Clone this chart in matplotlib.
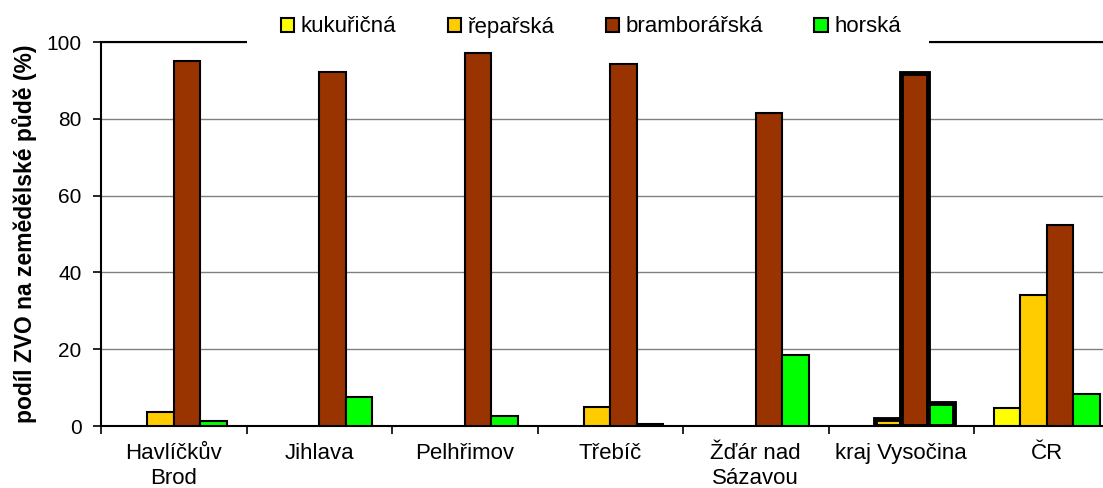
import matplotlib
matplotlib.use("Agg")
import matplotlib.pyplot as plt
import numpy as np
from matplotlib.patches import Patch, Rectangle

plt.rcParams['font.family'] = ['Liberation Sans', 'DejaVu Sans']

categories = ["Havlíčkův\nBrod", "Jihlava", "Pelhřimov", "Třebíč", "Žďár nad\nSázavou", "kraj Vysočina", "ČR"]
series_names = ["kukuřičná", "řepařská", "bramborářská", "horská"]
kukuricna = [0, 0, 0, 0, 0, 0, 4.7]
reparska = [3.6, 0, 0, 5.0, 0, 1.8, 34.2]
bramborarska = [95.0, 92.2, 97.1, 94.3, 81.5, 92.0, 52.4]
horska = [1.3, 7.5, 2.6, 0.6, 18.5, 6.0, 8.3]
yticks = [0, 20, 40, 60, 80, 100]

colors = ["#FFFF00", "#FFCC00", "#993300", "#00FF00"]
data = [kukuricna, reparska, bramborarska, horska]

W, H = 1103, 488
fig = plt.figure(figsize=(W/100, H/100), dpi=100)
left = 101/W
right_px = 101 + 7*145.5
ax = fig.add_axes([left, 1-426/H, (right_px-101)/W, (426-42)/H])

x = np.arange(len(categories))
bw = 0.182
for i, (vals, c) in enumerate(zip(data, colors)):
    offs = (i - 1.5) * bw
    lws = [1.5]*len(categories)
    lws[5] = 3.5
    for j, v in enumerate(vals):
        if v <= 0:
            continue
        ax.bar(x[j] + offs, v, bw, color=c, edgecolor="black", linewidth=lws[j], zorder=3)

ax.set_xlim(-0.5, len(categories)-0.5)
ax.set_ylim(0, 100)
ax.set_yticks(yticks)
ax.set_yticklabels([str(t) for t in yticks], fontsize=15)
ax.yaxis.grid(True, color="#808080", linewidth=1.0, zorder=0)
ax.set_axisbelow(True)
ax.set_xticks(x)
ax.set_xticklabels(categories, fontsize=16, linespacing=1.2)
ax.set_xticks(np.arange(len(categories)+1) - 0.5, minor=True)
ax.tick_params(axis='x', which='major', length=0, pad=12.5)
ax.tick_params(axis='x', which='minor', length=6, width=1.2, direction='out')
ax.tick_params(axis='y', length=6, width=1.2, direction='out', pad=8)
for s in ["left", "bottom", "top"]:
    ax.spines[s].set_linewidth(1.5)
ax.spines["right"].set_visible(False)
ax.set_ylabel("podíl ZVO na zemědělské půdě (%)", fontsize=16.5, fontweight="bold", labelpad=7)

# white band hiding the top border behind the legend
fig.add_artist(Rectangle((247/W, 1-48/H), (929-247)/W, 12/H, transform=fig.transFigure,
                         facecolor="white", edgecolor="none", zorder=5))

handles = [Patch(facecolor=c, edgecolor="black", linewidth=1.5) for c in colors]
leg = fig.legend(handles, series_names, loc="center", bbox_to_anchor=(591/W, 1-27/H), ncol=4,
                 fontsize=16, frameon=False,
                 handlelength=0.6, handleheight=0.6, handletextpad=0.3, columnspacing=2.3,
                 borderpad=0.3, borderaxespad=0)
leg.set_zorder(10)

fig.savefig("out.png", dpi=100)
